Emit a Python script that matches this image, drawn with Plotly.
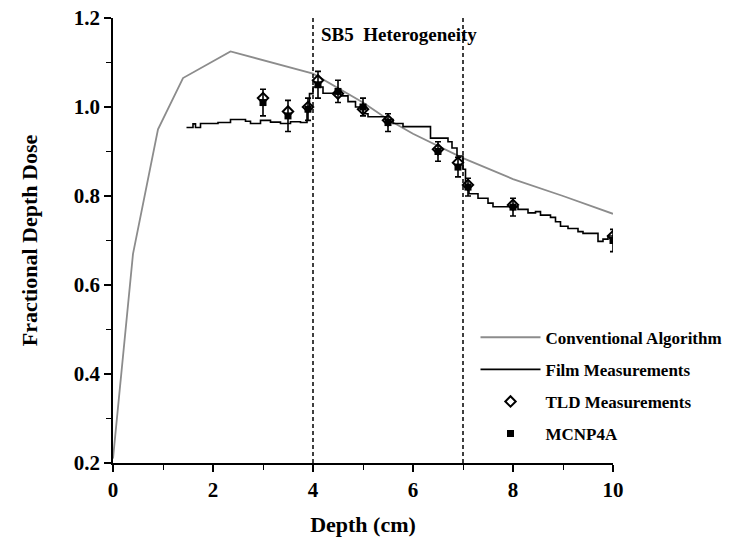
import plotly.graph_objects as go

# Conventional algorithm (gray line)
conv_x = [0.0, 0.4, 0.9, 1.4, 2.35, 3.0, 3.5, 4.0, 5.0, 5.5, 6.0, 6.5, 7.0, 8.0, 9.0, 10.0]
conv_y = [0.21, 0.67, 0.95, 1.065, 1.125, 1.105, 1.09, 1.075, 1.01, 0.972, 0.94, 0.912, 0.885, 0.838, 0.80, 0.76]

# Film measurements (black stepped line)
film_x = [1.47, 1.6, 1.65, 1.75, 2.1, 2.35, 2.65, 2.75, 2.95, 3.15, 3.35, 3.55, 3.75, 3.88, 3.93, 4.0,
          4.2, 4.55, 4.7, 4.85, 5.0, 5.1, 5.45, 5.6, 5.8, 6.35, 6.7, 6.78, 6.88, 7.0, 7.05,
          7.12, 7.3, 7.5, 7.6, 8.1, 8.3, 8.45, 8.55, 8.75, 8.85, 8.95, 9.1, 9.3, 9.4, 9.7,
          9.8, 9.9, 10.0]
film_y = [0.954, 0.962, 0.954, 0.963, 0.965, 0.972, 0.968, 0.963, 0.970, 0.966, 0.963, 0.967, 0.965, 1.0, 1.03, 1.045,
          1.031, 1.025, 1.012, 1.0, 0.985, 0.978, 0.972, 0.963, 0.956, 0.93, 0.922, 0.908, 0.89, 0.86, 0.825,
          0.805, 0.795, 0.784, 0.776, 0.770, 0.762, 0.765, 0.757, 0.752, 0.742, 0.732, 0.727, 0.720, 0.716, 0.698,
          0.703, 0.710, 0.712]

# Point measurements
pt_x = [3.0, 3.5, 3.9, 4.1, 4.5, 5.0, 5.5, 6.5, 6.9, 7.1, 8.0, 10.0]
tld_y = [1.02, 0.99, 1.0, 1.06, 1.03, 0.995, 0.97, 0.905, 0.875, 0.825, 0.78, 0.71]
mcnp_y = [1.01, 0.98, 0.995, 1.05, 1.035, 1.0, 0.965, 0.90, 0.865, 0.82, 0.775, 0.70]
mcnp_err = [0.03, 0.035, 0.025, 0.03, 0.025, 0.02, 0.02, 0.022, 0.022, 0.02, 0.02, 0.025]

# Heterogeneity boundaries
hetero_bounds = [4, 7]
hetero_label = "SB5  Heterogeneity"

x_range = [0, 10]
y_range = [0.2, 1.2]

FONT = "Liberation Serif"
TICKC = "black"

fig = go.Figure()
fig.add_trace(go.Scatter(x=conv_x, y=conv_y, mode="lines", name="Conventional Algorithm",
                         legendgroup="a", line=dict(color="#8c8c8c", width=1.8)))
fig.add_trace(go.Scatter(x=film_x, y=film_y, mode="lines", name="Film Measurements",
                         legendgroup="b", line=dict(color="black", width=1.6, shape="hv")))
fig.add_trace(go.Scatter(x=pt_x, y=tld_y, mode="markers", name="TLD Measurements",
                         legendgroup="c",
                         marker=dict(symbol="diamond-open", size=8, color="black",
                                     line=dict(width=2, color="black"))))
fig.add_trace(go.Scatter(x=pt_x, y=mcnp_y, mode="markers", name="MCNP4A",
                         legendgroup="d",
                         error_y=dict(type="data", array=mcnp_err, color="black",
                                      thickness=1.6, width=3),
                         marker=dict(symbol="square", size=7, color="black")))

for xb in hetero_bounds:
    fig.add_vline(x=xb, line=dict(color="black", width=1.5, dash="4px,3px"))

fig.add_annotation(x=hetero_bounds[0] + 0.12, y=0.962, xref="x", yref="paper",
                   text=hetero_label, showarrow=False, xanchor="left", yanchor="middle",
                   font=dict(family=FONT, size=19, color="black", weight="bold"))

fig.update_layout(
    xaxis=dict(range=x_range, dtick=2, showline=True, linecolor="black", linewidth=1.6,
               ticks="outside", ticklen=7, tickwidth=1.6, tickcolor=TICKC,
               minor=dict(ticks="outside", ticklen=5, tickcolor=TICKC, tickwidth=1.3, dtick=1),
               showgrid=False, zeroline=False,
               tickfont=dict(family=FONT, size=21, color="black", weight="bold"),
               title=dict(text="Depth (cm)", standoff=16,
                          font=dict(family=FONT, size=22, color="black", weight="bold"))),
    yaxis=dict(range=y_range, dtick=0.2, tickformat=".1f", showline=True, linecolor="black",
               linewidth=1.6, ticks="outside", ticklen=7, tickwidth=1.6, tickcolor=TICKC,
               minor=dict(ticks="outside", ticklen=5, tickcolor=TICKC, tickwidth=1.3, dtick=0.1),
               showgrid=False, zeroline=False,
               tickfont=dict(family=FONT, size=21, color="black", weight="bold"),
               title=dict(text="Fractional Depth Dose", standoff=30,
                          font=dict(family=FONT, size=22, color="black", weight="bold"))),
    width=735, height=548,
    margin=dict(l=113, r=122, t=18, b=85, autoexpand=False),
    plot_bgcolor="white", paper_bgcolor="white",
    showlegend=True,
    legend=dict(x=0.725, y=0.322, xanchor="left", yanchor="top",
                bgcolor="rgba(0,0,0,0)", tracegroupgap=7, itemwidth=60,
                font=dict(family=FONT, size=17, color="black", weight="bold")),
)

fig.write_html("out.html")
